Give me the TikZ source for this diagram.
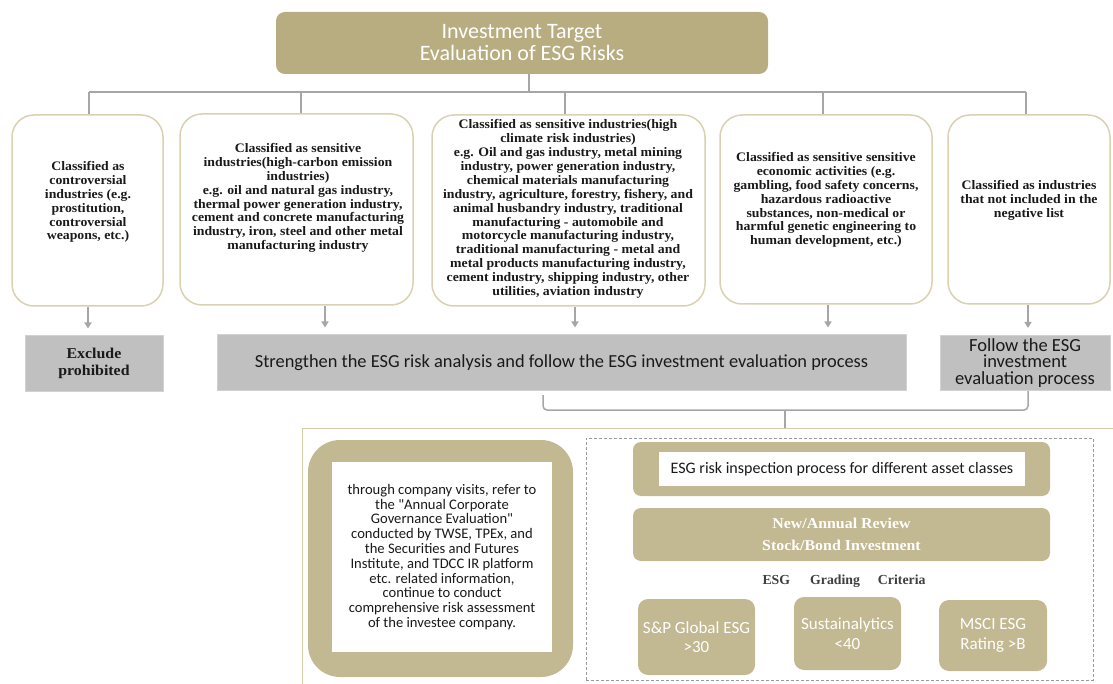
\documentclass[tikz,border=0pt]{standalone}
\usepackage{fontspec}
\setmainfont{Liberation Serif}
\setsansfont{Carlito}
\newfontfamily\boxserif[FakeStretch=1.06]{Liberation Serif}
\usetikzlibrary{arrows.meta}
\definecolor{esgtan}{HTML}{B8AD80}
\definecolor{esgtanlt}{HTML}{C2B891}
\definecolor{esgborder}{HTML}{D9D1B2}
\definecolor{esggray}{HTML}{C0C0C0}
\definecolor{esggraybd}{HTML}{D2D2D2}
\definecolor{esgline}{HTML}{A6A6A6}
\definecolor{esgframe}{HTML}{D6CDA8}
\definecolor{esgdash}{HTML}{9A9A9A}
\definecolor{esgtext}{HTML}{1A1A1A}
\tikzset{
  cbox/.style={draw=esgborder, line width=1.5pt, rounded corners=22pt, fill=white},
  ctext/.style={font=\boxserif\bfseries\fontsize{13}{13.9}\selectfont, align=center, text=esgtext, inner sep=0pt},
  gbox/.style={fill=esggray, draw=esggraybd, line width=1pt, align=center, text=esgtext},
  conn/.style={draw=esgline, line width=1.5pt},
  arr/.style={conn, -{Triangle[width=7pt,length=6pt]}, shorten >=7pt},
  tanbox/.style={fill=esgtanlt, rounded corners=10pt, align=center, text=white},
}
\begin{document}
\begin{tikzpicture}[x=1pt,y=-1pt]
\useasboundingbox (0,0) rectangle (1113,684);
\clip (0,0) rectangle (1113,684);

% title
\node[fill=esgtan, rounded corners=9pt, minimum width=492pt, minimum height=62pt,
      text=white, align=center, font=\sffamily\fontsize{22}{22}\selectfont] (title) at (522,43)
      {Investment Target\\Evaluation of ESG Risks};

% top row boxes
\node[cbox, minimum width=151pt, minimum height=191pt] (b1) at (87.5,210.5) {};
\node[cbox, minimum width=233pt, minimum height=191pt] (b2) at (296.5,209.5) {};
\node[cbox, minimum width=273pt, minimum height=191pt] (b3) at (568.5,210.5) {};
\node[cbox, minimum width=212pt, minimum height=189pt] (b4) at (826,209.5) {};
\node[cbox, minimum width=162pt, minimum height=189pt] (b5) at (1029,209.5) {};

\node[ctext] (t1) at (88,202) {Classified as\\controversial\\industries (e.g.\\prostitution,\\controversial\\weapons, etc.)};
\node[ctext] (t2) at (298,198) {Classified as sensitive\\industries(high-carbon emission\\industries)\\e.g. oil and natural gas industry,\\thermal power generation industry,\\cement and concrete manufacturing\\industry, iron, steel and other metal\\manufacturing industry};
\node[ctext] (t3) at (568,209) {Classified as sensitive industries(high\\climate risk industries)\\e.g. Oil and gas industry, metal mining\\industry, power generation industry,\\chemical materials manufacturing\\industry, agriculture, forestry, fishery, and\\animal husbandry industry, traditional\\manufacturing - automobile and\\motorcycle manufacturing industry,\\traditional manufacturing - metal and\\metal products manufacturing industry,\\cement industry, shipping industry, other\\utilities, aviation industry};
\node[ctext] (t4) at (826,200) {Classified as sensitive sensitive\\economic activities (e.g.\\gambling, food safety concerns,\\hazardous radioactive\\substances, non-medical or\\harmful genetic engineering to\\human development, etc.)};
\node[ctext] (t5) at (1029,200) {Classified as industries\\that not included in the\\negative list};

% tree connectors
\coordinate (hT) at (529,92);
\coordinate (h1) at (89,92);
\coordinate (h2) at (301,92);
\coordinate (h3) at (565,92);
\coordinate (h4) at (823,92);
\coordinate (h5) at (1026,92);
\draw[conn] (hT |- title.south) -- (hT);
\draw[conn] (h1) -- (h5);
\draw[conn] (h1) -- (h1 |- b1.north);
\draw[conn] (h2) -- (h2 |- b2.north);
\draw[conn] (h3) -- (h3 |- b3.north);
\draw[conn] (h4) -- (h4 |- b4.north);
\draw[conn] (h5) -- (h5 |- b5.north);

% gray result boxes
\node[gbox, minimum width=138pt, minimum height=55pt, font=\boxserif\bfseries\fontsize{15}{16.5}\selectfont, inner sep=0pt] (g1) at (94,363.5) {Exclude\\prohibited};
\node[gbox, minimum width=689pt, minimum height=55pt, font=\sffamily\fontsize{18.4}{20}\selectfont] (g2) at (561.5,362.5) {Strengthen the ESG risk analysis and follow the ESG investment evaluation process};
\node[gbox, minimum width=170pt, minimum height=55pt, font=\sffamily\fontsize{18.5}{16.7}\selectfont, inner sep=0pt] (g3) at (1025,363) {Follow the ESG\\investment\\evaluation process};

% arrows
\coordinate (a1) at (88,0);
\coordinate (a2) at (325,0);
\coordinate (a3) at (575,0);
\coordinate (a4) at (828,0);
\coordinate (a5) at (1028,0);
\draw[arr] (a1 |- b1.south) -- (a1 |- g1.north);
\draw[arr] (a2 |- b2.south) -- (a2 |- g2.north);
\draw[arr] (a3 |- b3.south) -- (a3 |- g2.north);
\draw[arr] (a4 |- b4.south) -- (a4 |- g2.north);
\draw[arr] (a5 |- b5.south) -- (a5 |- g3.north);

% bottom frame
\node[draw=esgframe, line width=1pt, minimum width=840pt, minimum height=300pt, anchor=north west] (frame) at (302,428) {};

% brace connector
\coordinate (bl0) at (543,395);
\coordinate (bl) at (543,410);
\coordinate (br) at (1028,410);
\coordinate (bm) at (785,410);
\draw[conn, rounded corners=4pt] (bl0) -- (bl) -- (br) -- (br |- g3.south);
\draw[conn] (bm) -- (bm |- frame.north);

% left process box
\node[fill=esgtanlt, rounded corners=32pt, minimum width=265pt, minimum height=237pt] (lbox) at (440.5,558.5) {};
\node[fill=white, minimum width=220pt, minimum height=190pt, align=center, text=esgtext,
      font=\sffamily\fontsize{14.6}{14.8}\selectfont] (ltext) at (442,557)
      {through company visits, refer to\\the \textquotedbl Annual Corporate\\Governance Evaluation\textquotedbl\\conducted by TWSE, TPEx, and\\the Securities and Futures\\Institute, and TDCC IR platform\\etc. related information,\\continue to conduct\\comprehensive risk assessment\\of the investee company.};

% dashed group
\node[draw=esgdash, dash pattern=on 3pt off 2pt, line width=0.8pt, minimum width=507pt, minimum height=242pt] (dbox) at (839.5,559) {};

\node[fill=esgtanlt, rounded corners=8pt, minimum width=417pt, minimum height=54pt] (inspect) at (841.5,469) {};
\node[fill=white, minimum width=366pt, minimum height=34pt, text=esgtext, font=\sffamily\fontsize{16}{18}\selectfont] (inspecttext) at (842,469) {ESG risk inspection process for different asset classes};

\node[tanbox, rounded corners=8pt, minimum width=417pt, minimum height=53pt, font=\boxserif\bfseries\fontsize{15}{22}\selectfont] (review) at (841.5,534.5) {New/Annual Review\\Stock/Bond Investment};

\node[text=black!75, font=\bfseries\fontsize{13.8}{15}\selectfont, inner sep=0pt] (crit) at (844,581) {ESG\hspace{20pt}Grading\hspace{18pt}Criteria};

\node[tanbox, minimum width=117pt, minimum height=76pt, font=\sffamily\fontsize{17}{19.5}\selectfont] (sp) at (696.5,637) {S\&P Global ESG\\>30};
\node[tanbox, minimum width=107pt, minimum height=73pt, font=\sffamily\fontsize{17}{19.5}\selectfont] (sust) at (847.5,633.5) {Sustainalytics\\<40};
\node[tanbox, minimum width=108pt, minimum height=71pt, font=\sffamily\fontsize{17}{19.5}\selectfont] (msci) at (993,635.5) {MSCI ESG\\Rating >B};
\end{tikzpicture}
\end{document}
